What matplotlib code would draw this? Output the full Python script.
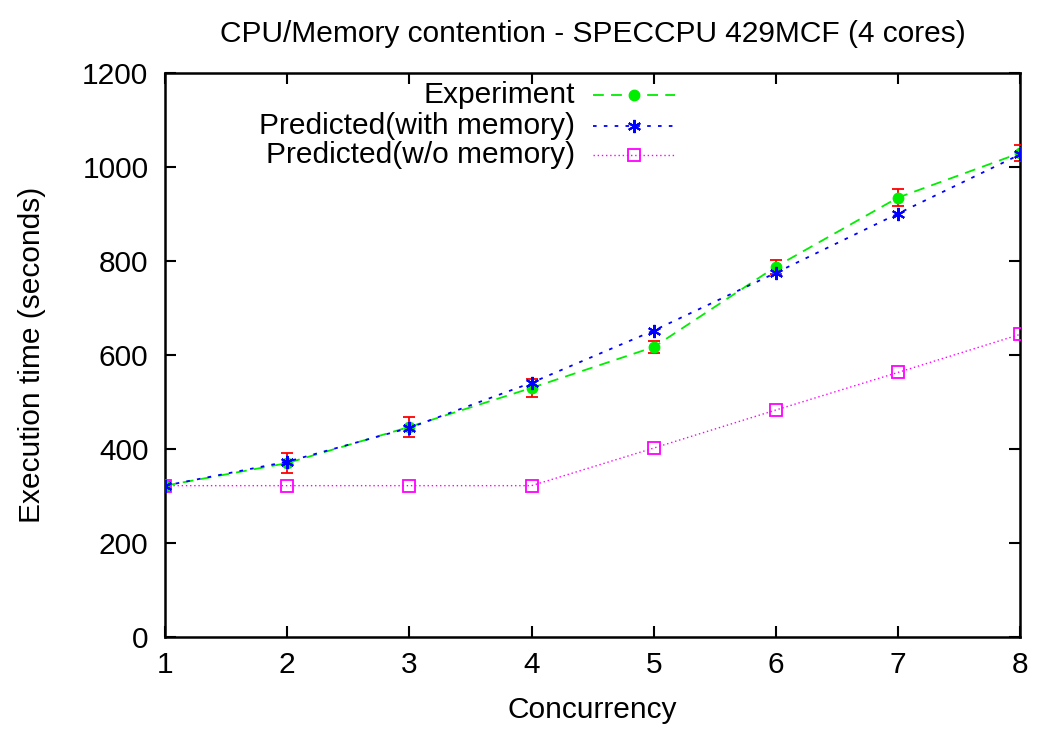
import matplotlib
matplotlib.use("Agg")
import matplotlib.pyplot as plt
from matplotlib.lines import Line2D

plt.rcParams['font.family'] = ['Liberation Sans', 'DejaVu Sans']

concurrency = [1, 2, 3, 4, 5, 6, 7, 8]
experiment = [322, 370, 447, 530, 617, 788, 935, 1030]
experiment_err = [8, 21, 21, 19, 13, 15, 19, 17]
pred_with_mem = [322, 373, 445, 541, 652, 775, 901, 1027]
pred_without_mem = [322, 322, 322, 322, 402, 483, 563, 644]

x_ticks = [1, 2, 3, 4, 5, 6, 7, 8]
y_ticks = [0, 200, 400, 600, 800, 1000, 1200]

FS = 21.5

fig = plt.figure(figsize=(10.38, 7.29), dpi=100)
ax = fig.add_axes([0.159, 0.1262, 0.824, 0.7737])

exp_style = dict(color='#00ee00', linestyle=(0, (6, 4)), linewidth=1.3,
                 marker='o', markersize=7.5)
mem_style = dict(color='#0000ff', linestyle=(0, (2, 4)), linewidth=1.3,
                 marker=(6, 2, 0), markersize=9.5, markeredgewidth=1.5)
nomem_style = dict(color='#ff00ff', linestyle=(0, (1, 2)), linewidth=1.0,
                   marker='s', markersize=8, markerfacecolor='none',
                   markeredgewidth=1.3)

ax.errorbar(concurrency, experiment, yerr=experiment_err, fmt='none',
            ecolor='#ff0000', elinewidth=1.3, capsize=4, capthick=1.3, zorder=3)
ax.plot(concurrency, experiment, zorder=4, **exp_style)
ax.plot(concurrency, pred_with_mem, zorder=5, **mem_style)
ax.plot(concurrency, pred_without_mem, zorder=4, **nomem_style)

ax.set_xlim(1, 8)
ax.set_ylim(0, 1200)
ax.set_xticks(x_ticks)
ax.set_yticks(y_ticks)
ax.tick_params(direction='in', length=8, width=1.5, top=True, right=True,
               labelsize=FS)
ax.tick_params(axis='y', pad=12)
ax.tick_params(axis='x', pad=10)
for s in ax.spines.values():
    s.set_linewidth(1.8)

ax.set_title('CPU/Memory contention - SPECCPU 429MCF (4 cores)', fontsize=FS, pad=22)
ax.set_xlabel('Concurrency', fontsize=FS, labelpad=12)
ax.set_ylabel('Execution time (seconds)', fontsize=FS, labelpad=26)

# legend: right-aligned labels followed by sample lines
legend_rows = [
    ('Experiment', exp_style),
    ('Predicted(with memory)', mem_style),
    ('Predicted(w/o memory)', nomem_style),
]
row_y = [0.961, 0.9065, 0.854]
text_x = 0.4795
line_x0, line_x1 = 0.5006, 0.5965
for (label, style), yy in zip(legend_rows, row_y):
    ax.text(text_x, yy, label, transform=ax.transAxes, ha='right', va='center',
            fontsize=FS)
    ax.add_line(Line2D([line_x0, line_x1], [yy, yy], transform=ax.transAxes,
                       **{**style, 'marker': 'none'}))
    ax.add_line(Line2D([(line_x0 + line_x1) / 2], [yy], transform=ax.transAxes,
                       **{**style, 'linestyle': 'none'}))

fig.savefig('out.png', dpi=100)
